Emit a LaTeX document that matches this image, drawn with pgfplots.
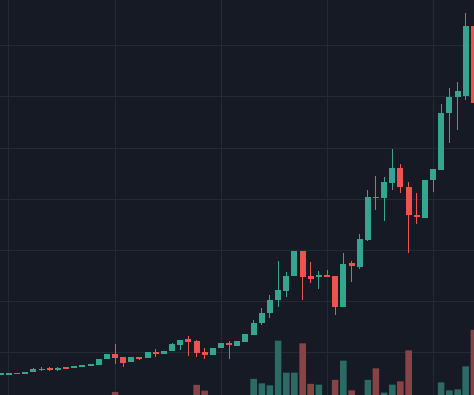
\documentclass[border=0pt]{standalone}
\usepackage{pgfplots}
\pgfplotsset{compat=1.18}
\usepackage{pgfplotstable}
\definecolor{bg}{HTML}{161A25}
\definecolor{gridc}{HTML}{242937}
\definecolor{up}{HTML}{35A58F}
\definecolor{down}{HTML}{EF5350}
\definecolor{upvol}{HTML}{2B6A65}
\definecolor{downvol}{HTML}{884346}

\pgfplotstableread{
i o h l c
0 20.5 21.5 20.5 21.5
1 20.8 21.8 20.8 21.8
2 21.2 22.2 21.2 22.2
3 21.8 22.8 21.8 22.8
4 23 26.5 22.5 25.7
5 25.2 27.7 23.7 26.2
7 25.5 28.3 23.7 26.5
9 27.7 29.2 27.7 29.2
10 28.8 29.8 28.8 29.8
11 29.8 30.8 29.8 30.8
12 30.3 35.7 30.3 35.7
13 35.7 40.5 35.7 40.5
16 32.7 37.7 32.7 37.7
18 36.7 42.5 36.7 42.5
20 41.2 44 41.2 44
21 44 52 43.5 51
22 50.3 55.5 45.5 55.5
26 39.7 46.7 39.7 46.7
27 46.5 51.7 46.5 51.7
29 49.5 53.7 49.5 53.7
30 53.3 60.7 53.3 60.7
31 60.5 75 60.5 72.3
32 71.8 86.7 70 82.3
33 81.5 99.5 76.7 95.3
34 95 134.3 88.3 104.7
35 104.3 122.5 97.7 119.3
36 119 144 119 144
39 118.3 124 105.7 120
42 87.5 141.7 87.5 131
44 128.3 160.7 126 155.7
45 155 205 154 198.3
47 197.3 217.7 174 212.7
48 212.3 245.7 205 227.3
52 177.3 215 177.3 215
53 215 226 202.7 226
54 225 290.7 225 281.7
55 281.7 306.7 252 297.7
56 297.7 313.3 265 304.3
57 299.3 381.7 295 369
}\upcandles

\pgfplotstableread{
i o h l c
6 26.5 28 24 25.5
8 27.5 28 26 26.5
14 41.2 51 31 36.7
15 37.5 37.5 28 32.3
17 38 38 35 36.2
19 43 46 37.7 41
23 55.8 59.3 39 52.8
24 53.5 55.3 37.7 41.7
25 42.7 46.7 35.7 39.7
28 52 54.3 35.8 49.8
37 144 144 95 118.3
38 119.3 132.7 112 116
40 120 125 117.7 117.7
41 119 119 80 88.3
43 131.7 134.3 113.3 129
46 198.3 219.3 185 196.8
49 227.3 230.7 202.3 207.7
50 207.7 213.3 142.3 180
51 180.3 201.7 170.7 177.7
58 369 369 291.7 291.7
}\downcandles

\pgfplotstableread{
i v
31 16
32 11.7
33 9.7
34 54.3
35 22.3
36 22.3
39 10.3
42 34.3
45 15
47 2.3
48 10.3
54 12.7
55 4.7
56 5.7
57 28.7
}\upvolume

\pgfplotstableread{
i v
14 3
24 10
25 4.3
37 51.7
38 11
41 15
43 4.7
46 26.7
49 13.7
50 44.7
58 65
}\downvolume

\begin{document}
\begin{tikzpicture}
\begin{axis}[
  width=474bp, height=395bp, scale only axis,
  xmin=-0.102, xmax=58.02, ymin=0, ymax=395,
  axis background/.style={fill=bg},
  axis line style={draw=none},
  xtick={1,14,27,40,53},
  ytick={42.5,93.6,144.7,195.8,246.9,298,349.1},
  xticklabels={}, yticklabels={},
  major tick length=0pt, tick style={draw=none},
  grid=major, major grid style={draw=gridc, line width=1bp},
  clip=true,
]
% volumes
\addplot[ybar, bar width=6.5bp, bar shift=0pt, fill=upvol, draw=none]
  table[x=i, y=v]{\upvolume};
\addplot[ybar, bar width=6.5bp, bar shift=0pt, fill=downvol, draw=none]
  table[x=i, y=v]{\downvolume};
% wicks
\addplot[draw=none, mark=none, error bars/.cd, y dir=both, y explicit,
  error mark=none, error bar style={draw=up, line width=1bp}]
  table[x=i, y expr={(\thisrow{h}+\thisrow{l})/2}, y error expr={(\thisrow{h}-\thisrow{l})/2}]{\upcandles};
\addplot[draw=none, mark=none, error bars/.cd, y dir=both, y explicit,
  error mark=none, error bar style={draw=down, line width=1bp}]
  table[x=i, y expr={(\thisrow{h}+\thisrow{l})/2}, y error expr={(\thisrow{h}-\thisrow{l})/2}]{\downcandles};
% bodies
\addplot[draw=none, mark=none, error bars/.cd, y dir=both, y explicit,
  error mark=none, error bar style={draw=up, line width=6bp}]
  table[x=i, y expr={(\thisrow{o}+\thisrow{c})/2}, y error expr={max(abs(\thisrow{c}-\thisrow{o})/2,0.6)}]{\upcandles};
\addplot[draw=none, mark=none, error bars/.cd, y dir=both, y explicit,
  error mark=none, error bar style={draw=down, line width=6bp}]
  table[x=i, y expr={(\thisrow{o}+\thisrow{c})/2}, y error expr={max(abs(\thisrow{c}-\thisrow{o})/2,0.6)}]{\downcandles};
\end{axis}
\pgfresetboundingbox
\useasboundingbox (current axis.south west) rectangle (current axis.north east);
\end{tikzpicture}
\end{document}
